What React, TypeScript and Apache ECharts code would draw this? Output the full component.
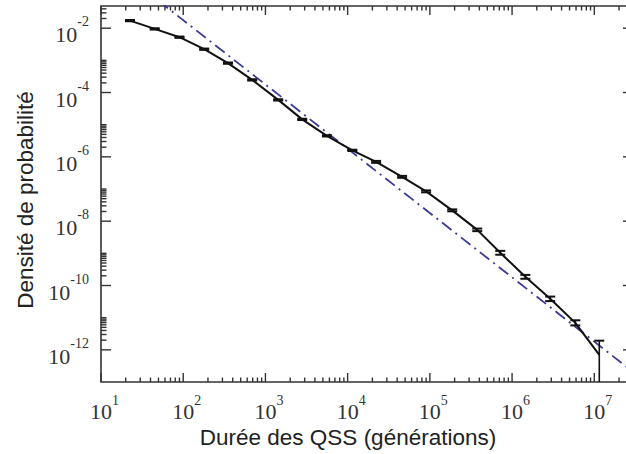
import React, { useEffect, useRef } from 'react';
import * as echarts from 'echarts';

// QSS durations (generations) and probability density
const durations = [22.5, 45, 90, 180, 350, 690, 1430, 2800, 5600, 11400, 22200, 46000, 90000, 187000, 377000, 718000, 1.45e6, 2.91e6, 5.88e6, 1.15e7];
const density = [1.72e-2, 9.5e-3, 5.25e-3, 2.22e-3, 8.2e-4, 2.47e-4, 5.9e-5, 1.46e-5, 4.5e-6, 1.59e-6, 6.98e-7, 2.39e-7, 8.45e-8, 2.17e-8, 5.37e-9, 1.04e-9, 1.86e-10, 3.85e-11, 6.9e-12, 7.0e-13];
// error bar half-widths in decades (null = down to the axis)
const errUpDecades = [0.02, 0.02, 0.02, 0.02, 0.02, 0.02, 0.02, 0.02, 0.02, 0.02, 0.03, 0.03, 0.03, 0.03, 0.04, 0.06, 0.06, 0.07, 0.08, 0.44];
const errDownDecades: (number | null)[] = [0.02, 0.02, 0.02, 0.02, 0.02, 0.02, 0.02, 0.02, 0.02, 0.02, 0.03, 0.03, 0.03, 0.03, 0.04, 0.06, 0.06, 0.07, 0.08, null];
// power-law fit (dash-dot line) end points
const fitX = [50, 3e7];
const fitY = [0.071, 2.0e-13];
// axes (exponents of ten)
const xTickExponents = [1, 2, 3, 4, 5, 6, 7];
const yTickExponents = [-12, -10, -8, -6, -4, -2];
const xMinorMultipliers = [2, 3, 4, 5, 6, 7, 8, 9];
const yMinorMultipliers = [2, 3, 4, 5, 6, 7, 8, 9, 10];
const X_MIN_EXP = 1;
const X_MAX_EXP = 7.41;
const Y_MIN_EXP = -13;
const Y_MAX_EXP = -1.31;

const xTitle = 'Durée des QSS (générations)';
const yTitle = 'Densité de probabilité';

const AXIS_COLOR = '#333333';
const SERIF = '"Liberation Serif", "DejaVu Serif", serif';
const SANS = '"Liberation Sans", Arial, sans-serif';

function isInt(v: number) {
  return Math.abs(v - Math.round(v)) < 1e-6;
}

export default function App() {
  const ref = useRef<HTMLDivElement>(null);

  useEffect(() => {
    if (!ref.current) return;
    const chart = echarts.init(ref.current, null, { renderer: 'svg' });

    const mainPts = durations.map((d, i) => [Math.log10(d), Math.log10(density[i])]);
    const errPts = durations.map((d, i) => {
      const ly = Math.log10(density[i]);
      const dn = errDownDecades[i];
      return [Math.log10(d), ly, ly + errUpDecades[i], dn == null ? Y_MIN_EXP : ly - dn, dn == null ? 0 : 1];
    });
    const fitPts = fitX.map((x, i) => [Math.log10(x), Math.log10(fitY[i])]);

    // tick rows: [x, y, side(0 bottom,1 top,2 left,3 right), length]
    const xMid = (X_MIN_EXP + X_MAX_EXP) / 2;
    const yMid = (Y_MIN_EXP + Y_MAX_EXP) / 2;
    const tickRows: number[][] = [];
    xTickExponents.forEach((n) => {
      [1, ...xMinorMultipliers].forEach((m) => {
        const v = n + Math.log10(m);
        if (v > X_MAX_EXP) return;
        const len = m === 1 ? 9 : 4.5;
        tickRows.push([v, yMid, 0, len]);
        tickRows.push([v, yMid, 1, len]);
      });
    });
    yTickExponents.forEach((e) => {
      tickRows.push([xMid, e, 2, 10]);
      tickRows.push([xMid, e, 3, 5]);
      yMinorMultipliers.forEach((m) => {
        const v = e + Math.log10(m);
        if (v <= Y_MAX_EXP) tickRows.push([xMid, v, 2, 5.5]);
      });
    });

    const labelRich = (lh: number) => ({
      b: { fontSize: 22, lineHeight: lh, verticalAlign: 'bottom', fontFamily: SERIF, color: '#333' },
      s: { fontSize: 14, lineHeight: 14, verticalAlign: 'top', fontFamily: SERIF, color: '#333' },
    });

    chart.setOption({
      animation: false,
      grid: {
        left: 101,
        top: 6,
        right: -2,
        bottom: 72,
        outerBoundsMode: 'none',
        containLabel: false,
        show: true,
        borderColor: AXIS_COLOR,
        borderWidth: 1.6,
      },
      xAxis: {
        type: 'value',
        min: X_MIN_EXP,
        max: X_MAX_EXP,
        interval: 1,
        axisLine: { show: false },
        splitLine: { show: false },
        axisTick: { show: false },
        axisLabel: {
          margin: 11,
          padding: [0, 0, 0, 7],
          formatter: (v: number) => (isInt(v) && xTickExponents.includes(Math.round(v)) ? `{b|10}{s|${Math.round(v)}}` : ''),
          rich: labelRich(29),
        },
      },
      yAxis: {
        type: 'value',
        min: Y_MIN_EXP,
        max: Y_MAX_EXP,
        interval: 1,
        axisLine: { show: false },
        splitLine: { show: false },
        axisTick: { show: false },
        axisLabel: {
          margin: 12,
          padding: [4, 0, 0, 0],
          formatter: (v: number) => (isInt(v) && yTickExponents.includes(Math.round(v)) ? `{b|10}{s|${Math.round(v)}}` : ''),
          rich: labelRich(31),
        },
      },
      graphic: [
        {
          type: 'text',
          x: 348,
          y: 437,
          style: { text: xTitle, fontSize: 22.5, fontFamily: SANS, fill: '#222', align: 'center', verticalAlign: 'middle' },
        },
        {
          type: 'text',
          x: 25,
          y: 200,
          rotation: Math.PI / 2,
          style: { text: yTitle, fontSize: 22.5, fontFamily: SANS, fill: '#222', align: 'center', verticalAlign: 'middle' },
        },
      ],
      series: [
        {
          type: 'custom',
          data: tickRows,
          encode: { x: 0, y: 1 },
          silent: true,
          clip: false,
          z: 5,
          renderItem: (_params: any, api: any) => {
            const x = api.value(0);
            const y = api.value(1);
            const side = api.value(2);
            const len = api.value(3);
            const w = 1.4;
            let shape;
            if (side === 0) {
              const p = api.coord([x, Y_MIN_EXP]);
              shape = { x: p[0] - w / 2, y: p[1] - len, width: w, height: len };
            } else if (side === 1) {
              const p = api.coord([x, Y_MAX_EXP]);
              shape = { x: p[0] - w / 2, y: p[1], width: w, height: len };
            } else if (side === 2) {
              const p = api.coord([X_MIN_EXP, y]);
              shape = { x: p[0], y: p[1] - w / 2, width: len, height: w };
            } else {
              const p = api.coord([X_MAX_EXP, y]);
              shape = { x: p[0] - len, y: p[1] - w / 2, width: len, height: w };
            }
            return { type: 'rect', shape, style: { fill: AXIS_COLOR } };
          },
        },
        {
          type: 'line',
          data: fitPts,
          symbol: 'none',
          clip: true,
          z: 2,
          lineStyle: { color: '#3b3b96', width: 1.8, type: [12, 5, 2, 5] },
        },
        {
          type: 'line',
          data: mainPts,
          symbol: 'none',
          clip: true,
          z: 3,
          lineStyle: { color: '#111111', width: 2 },
        },
        {
          type: 'custom',
          data: errPts,
          encode: { x: 0, y: 1 },
          z: 4,
          renderItem: (_params: any, api: any) => {
            const x = api.value(0);
            const hi = api.coord([x, api.value(2)]);
            const lo = api.coord([x, api.value(3)]);
            const hasLow = api.value(4) === 1;
            const st = { stroke: '#111111', lineWidth: 1.6 };
            const children: any[] = [
              { type: 'line', shape: { x1: hi[0], y1: hi[1], x2: lo[0], y2: lo[1] }, style: st },
              { type: 'line', shape: { x1: hi[0] - 5, y1: hi[1], x2: hi[0] + 5, y2: hi[1] }, style: { stroke: '#111111', lineWidth: 2 } },
            ];
            if (hasLow) {
              children.push({ type: 'line', shape: { x1: lo[0] - 5, y1: lo[1], x2: lo[0] + 5, y2: lo[1] }, style: { stroke: '#111111', lineWidth: 2 } });
            }
            return { type: 'group', children };
          },
        },
      ],
    });

    return () => chart.dispose();
  }, []);

  return <div ref={ref} style={{ position: 'fixed', left: 0, top: 0, width: 626, height: 454, background: '#fff' }} />;
}
